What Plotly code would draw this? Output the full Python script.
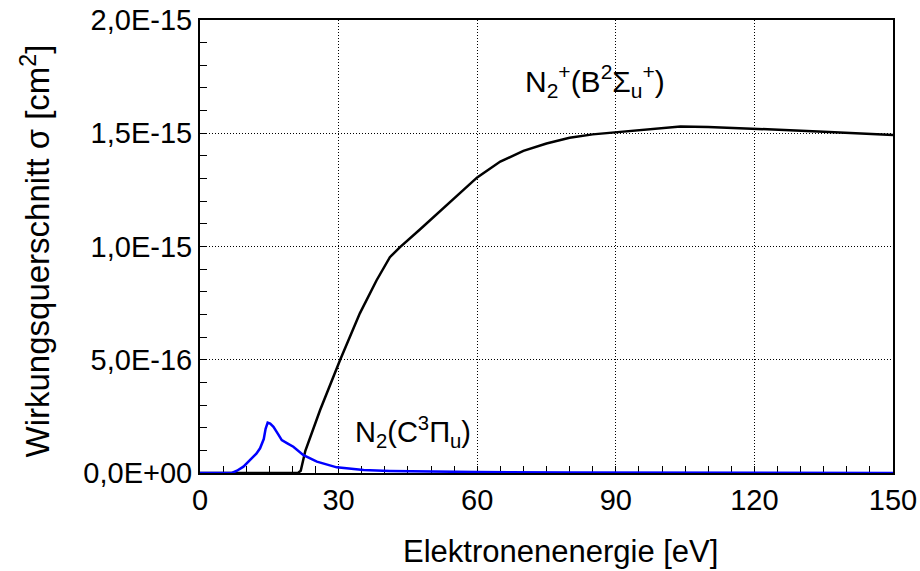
import numpy as np
import plotly.graph_objects as go

# Electron impact cross sections of N2 (values in units of 1e-16 cm^2)
energy_b = [0, 21.2, 21.8, 22.1, 22.4, 22.8, 26.0, 30.3, 34.6, 38.2, 41.1, 43.3,
            47.6, 52.7, 56.3, 60, 65, 70, 75, 80, 85, 90, 95, 100, 104, 110,
            120, 135, 150]
sigma_b = [0, 0, 0.1, 0.4, 0.7, 0.98, 2.78, 4.98, 7.05, 8.5, 9.53, 9.97,
           10.75, 11.7, 12.4, 13.05, 13.75, 14.22, 14.55, 14.8, 14.95, 15.04,
           15.15, 15.24, 15.3, 15.28, 15.2, 15.07, 14.92]

energy_c = [0, 6.9, 8.0, 9.4, 10.8, 12.2, 13.0, 13.8, 14.2, 14.65, 15.2, 15.9,
            16.8, 17.7, 19.0, 20.2, 22.4, 25.3, 29.6, 35.4, 41, 50, 60, 80,
            100, 150]
sigma_c = [0, 0, 0.1, 0.28, 0.57, 0.85, 1.09, 1.5, 1.95, 2.22, 2.18, 2.04,
           1.75, 1.45, 1.3, 1.16, 0.79, 0.5, 0.25, 0.13, 0.09, 0.06, 0.04,
           0.02, 0.01, 0.0]

UNIT = 1e-16

x_ticks = [0, 30, 60, 90, 120, 150]
y_tickvals = [0, 5e-16, 1e-15, 1.5e-15, 2e-15]
y_ticktext = ["0,0E+00", "5,0E-16", "1,0E-15", "1,5E-15", "2,0E-15"]

label_b = "N<sub>2</sub><sup>+</sup>(B<sup>2</sup>Σ<sub>u</sub><sup>+</sup>)"
label_c = "N<sub>2</sub>(C<sup>3</sup>Π<sub>u</sub>)"
x_title = "Elektronenenergie [eV]"
y_title = "Wirkungsquerschnitt σ [cm<sup>2</sup>]"

FONT = "Liberation Sans, Arial, sans-serif"

fig = go.Figure()
fig.add_trace(go.Scatter(x=energy_b, y=np.array(sigma_b) * UNIT, mode="lines",
                         line=dict(color="black", width=2.5), showlegend=False))
fig.add_trace(go.Scatter(x=energy_c, y=np.array(sigma_c) * UNIT, mode="lines",
                         line=dict(color="#0000ff", width=2.5), showlegend=False))

# curve labels
fig.add_annotation(x=85.6, y=1.73e-15, text=label_b, showarrow=False,
                   font=dict(size=30, color="black", family=FONT),
                   xanchor="center", yanchor="middle")
fig.add_annotation(x=46.1, y=1.83e-16, text=label_c, showarrow=False,
                   font=dict(size=29, color="black", family=FONT),
                   xanchor="center", yanchor="middle")

# axis titles
fig.add_annotation(x=0.5195, y=0, xref="paper", yref="paper", text=x_title,
                   showarrow=False, xanchor="center", yanchor="middle", yshift=-78,
                   font=dict(size=31, color="black", family=FONT))
fig.add_annotation(x=0, y=0.489, xref="paper", yref="paper", text=y_title,
                   showarrow=False, xanchor="center", yanchor="middle", xshift=-164,
                   textangle=-90, font=dict(size=33, color="black", family=FONT))

axis_common = dict(
    showline=True, linecolor="black", linewidth=2, mirror=True,
    showgrid=True, gridcolor="black", gridwidth=1, griddash="1px,2px",
    ticks="inside", ticklen=7, tickcolor="black", tickwidth=1,
    tickfont=dict(size=29, color="black", family=FONT),
    zeroline=False, layer="below traces", automargin=False,
)

fig.update_xaxes(
    range=[0, 150], tickvals=x_ticks,
    minor=dict(ticks="inside", dtick=5, ticklen=7, tickcolor="black", showgrid=False),
    **axis_common,
)
fig.update_yaxes(
    range=[0, 2e-15], tickvals=y_tickvals, ticktext=y_ticktext,
    minor=dict(ticks="inside", dtick=1e-16, ticklen=7, tickcolor="black", showgrid=False),
    **axis_common,
)

fig.update_layout(
    width=920, height=571,
    margin=dict(l=200, r=27, t=20, b=98),
    paper_bgcolor="white", plot_bgcolor="white",
    font=dict(family=FONT, color="black"),
)

fig.write_html("out.html")
